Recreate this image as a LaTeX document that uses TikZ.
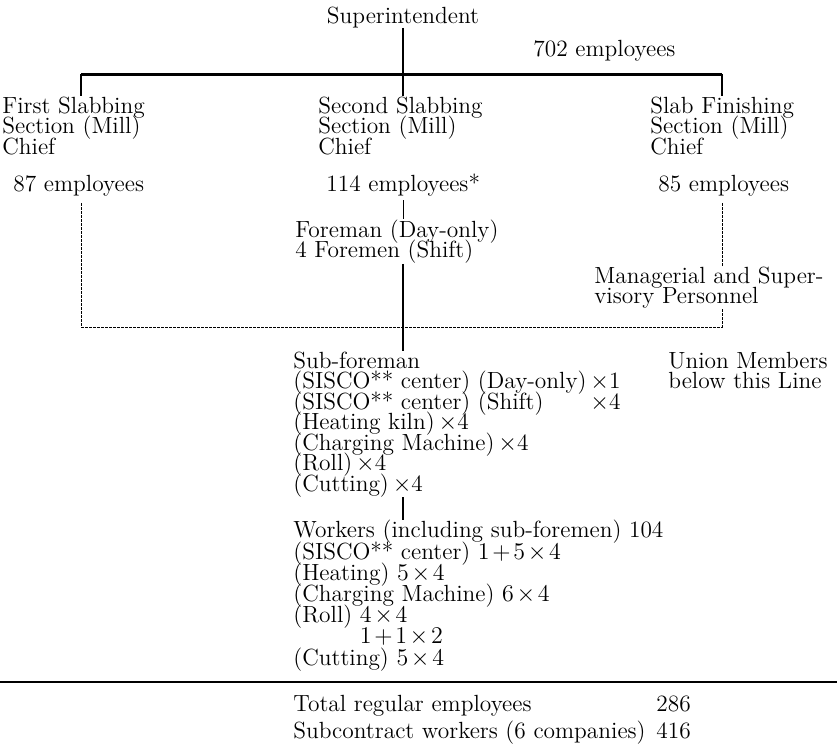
\documentclass[tikz,border=0pt]{standalone}
\usepackage{calc}
\usetikzlibrary{positioning}

\newcommand\orgfont[1][10.25]{\fontsize{11.7}{#1}\selectfont\lineskiplimit=-10pt\relax}
\newcommand\by{\mskip2mu{\times}\mskip2mu}
\newcommand\plus{\mskip2mu{+}\mskip2mu}

\tikzset{
  txt/.style={anchor=base west, inner sep=0pt, align=left, font=\orgfont},
  stemline/.style={line width=1.3pt},
  barline/.style={line width=1.5pt},
  thinline/.style={line width=0.5pt},
  dotline/.style={line width=0.5pt, dash pattern=on 1.2pt off 0.8pt},
  ruleline/.style={line width=0.75pt}
}

\begin{document}
\begin{tikzpicture}[x=0.5pt,y=-0.5pt]
\useasboundingbox (0,0) rectangle (837,752);

% top of the chart (multi-line nodes sit on the baseline of their last line)
\node[txt,anchor=base] (super) at (403,23) {Superintendent};
\node[txt] (staff) at (533,56) {702 employees};
\coordinate (barL) at (81,74);
\coordinate (barR) at (722,74);

% section chiefs
\node[txt] (first)  at (2,154)   {First Slabbing\\Section (Mill)\\Chief};
\node[txt] (second) at (318,154) {Second Slabbing\\Section (Mill)\\Chief};
\node[txt] (finish) at (650,154) {Slab Finishing\\Section (Mill)\\Chief};
\node[txt] (emp1) at (13,191)  {87 employees};
\node[txt] (emp2) at (326,191) {114 employees*};
\node[txt] (emp3) at (658,191) {85 employees};

% second slabbing section
\node[txt] (foreman) at (295,257.5) {Foreman (Day-only)\\4 Foremen (Shift)};
\node[txt] (mgr) at (594,303.5) {Managerial and Super-\\visory Personnel};
\node[txt] (union) at (668,388.5) {Union Members\\below this Line};
\node[txt] (subfore) at (293,491) {Sub-foreman\\
  (SISCO** center) (Day-only)\,$\times$1\\
  (SISCO** center) \makebox[\widthof{(Day-only)}][l]{(Shift)}\,$\times$4\\
  (Heating kiln)\,$\times$4\\
  (Charging Machine)\,$\times$4\\
  (Roll)\,$\times$4\\
  (Cutting)\,$\times$4};
\node[txt,font={\orgfont[10.6]}] (workers) at (293,665) {Workers (including sub-foremen) 104\\
  (SISCO** center) $1\plus5\by4$\\
  (Heating) $5\by4$\\
  (Charging Machine) $6\by4$\\
  (Roll) $4\by4$\\
  \phantom{(Roll) }$1\plus1\by2$\\
  (Cutting) $5\by4$};

% totals
\node[txt] (total) at (293,711) {Total regular employees};
\node[txt] (totalnum) at (656,711) {286};
\node[txt] (subcon) at (293,738) {Subcontract workers (6 companies)};
\node[txt] (subconnum) at (656,738) {416};

% connectors
\draw[stemline] (super.south) -- (super.south |- second.north);
\draw[barline] (barL) -- (barR);
\draw[stemline] (barL) -- (barL |- first.north);
\draw[stemline] (barR) -- (barR |- finish.north);
\draw[thinline,shorten <=2pt] (emp2.south -| super) -- (foreman.north -| super);
\draw[stemline] (foreman.south -| super) -- (subfore.north -| super);
\draw[stemline] (subfore.south -| super) -- (workers.north -| super);

% line between managers and union members
\coordinate (dotL) at (81,327);
\coordinate (dotR) at (722,327);
\draw[dotline,shorten <=3.5pt] (emp1.south -| dotL) -- (dotL) -- (dotR) -- (mgr.south -| dotR);
\draw[dotline,shorten <=3.5pt] (emp3.south -| dotR) -- (mgr.north -| dotR);

\coordinate (ruleL) at (0,682);
\coordinate (ruleR) at (837,682);
\draw[ruleline] (ruleL) -- (ruleR);
\end{tikzpicture}
\end{document}
